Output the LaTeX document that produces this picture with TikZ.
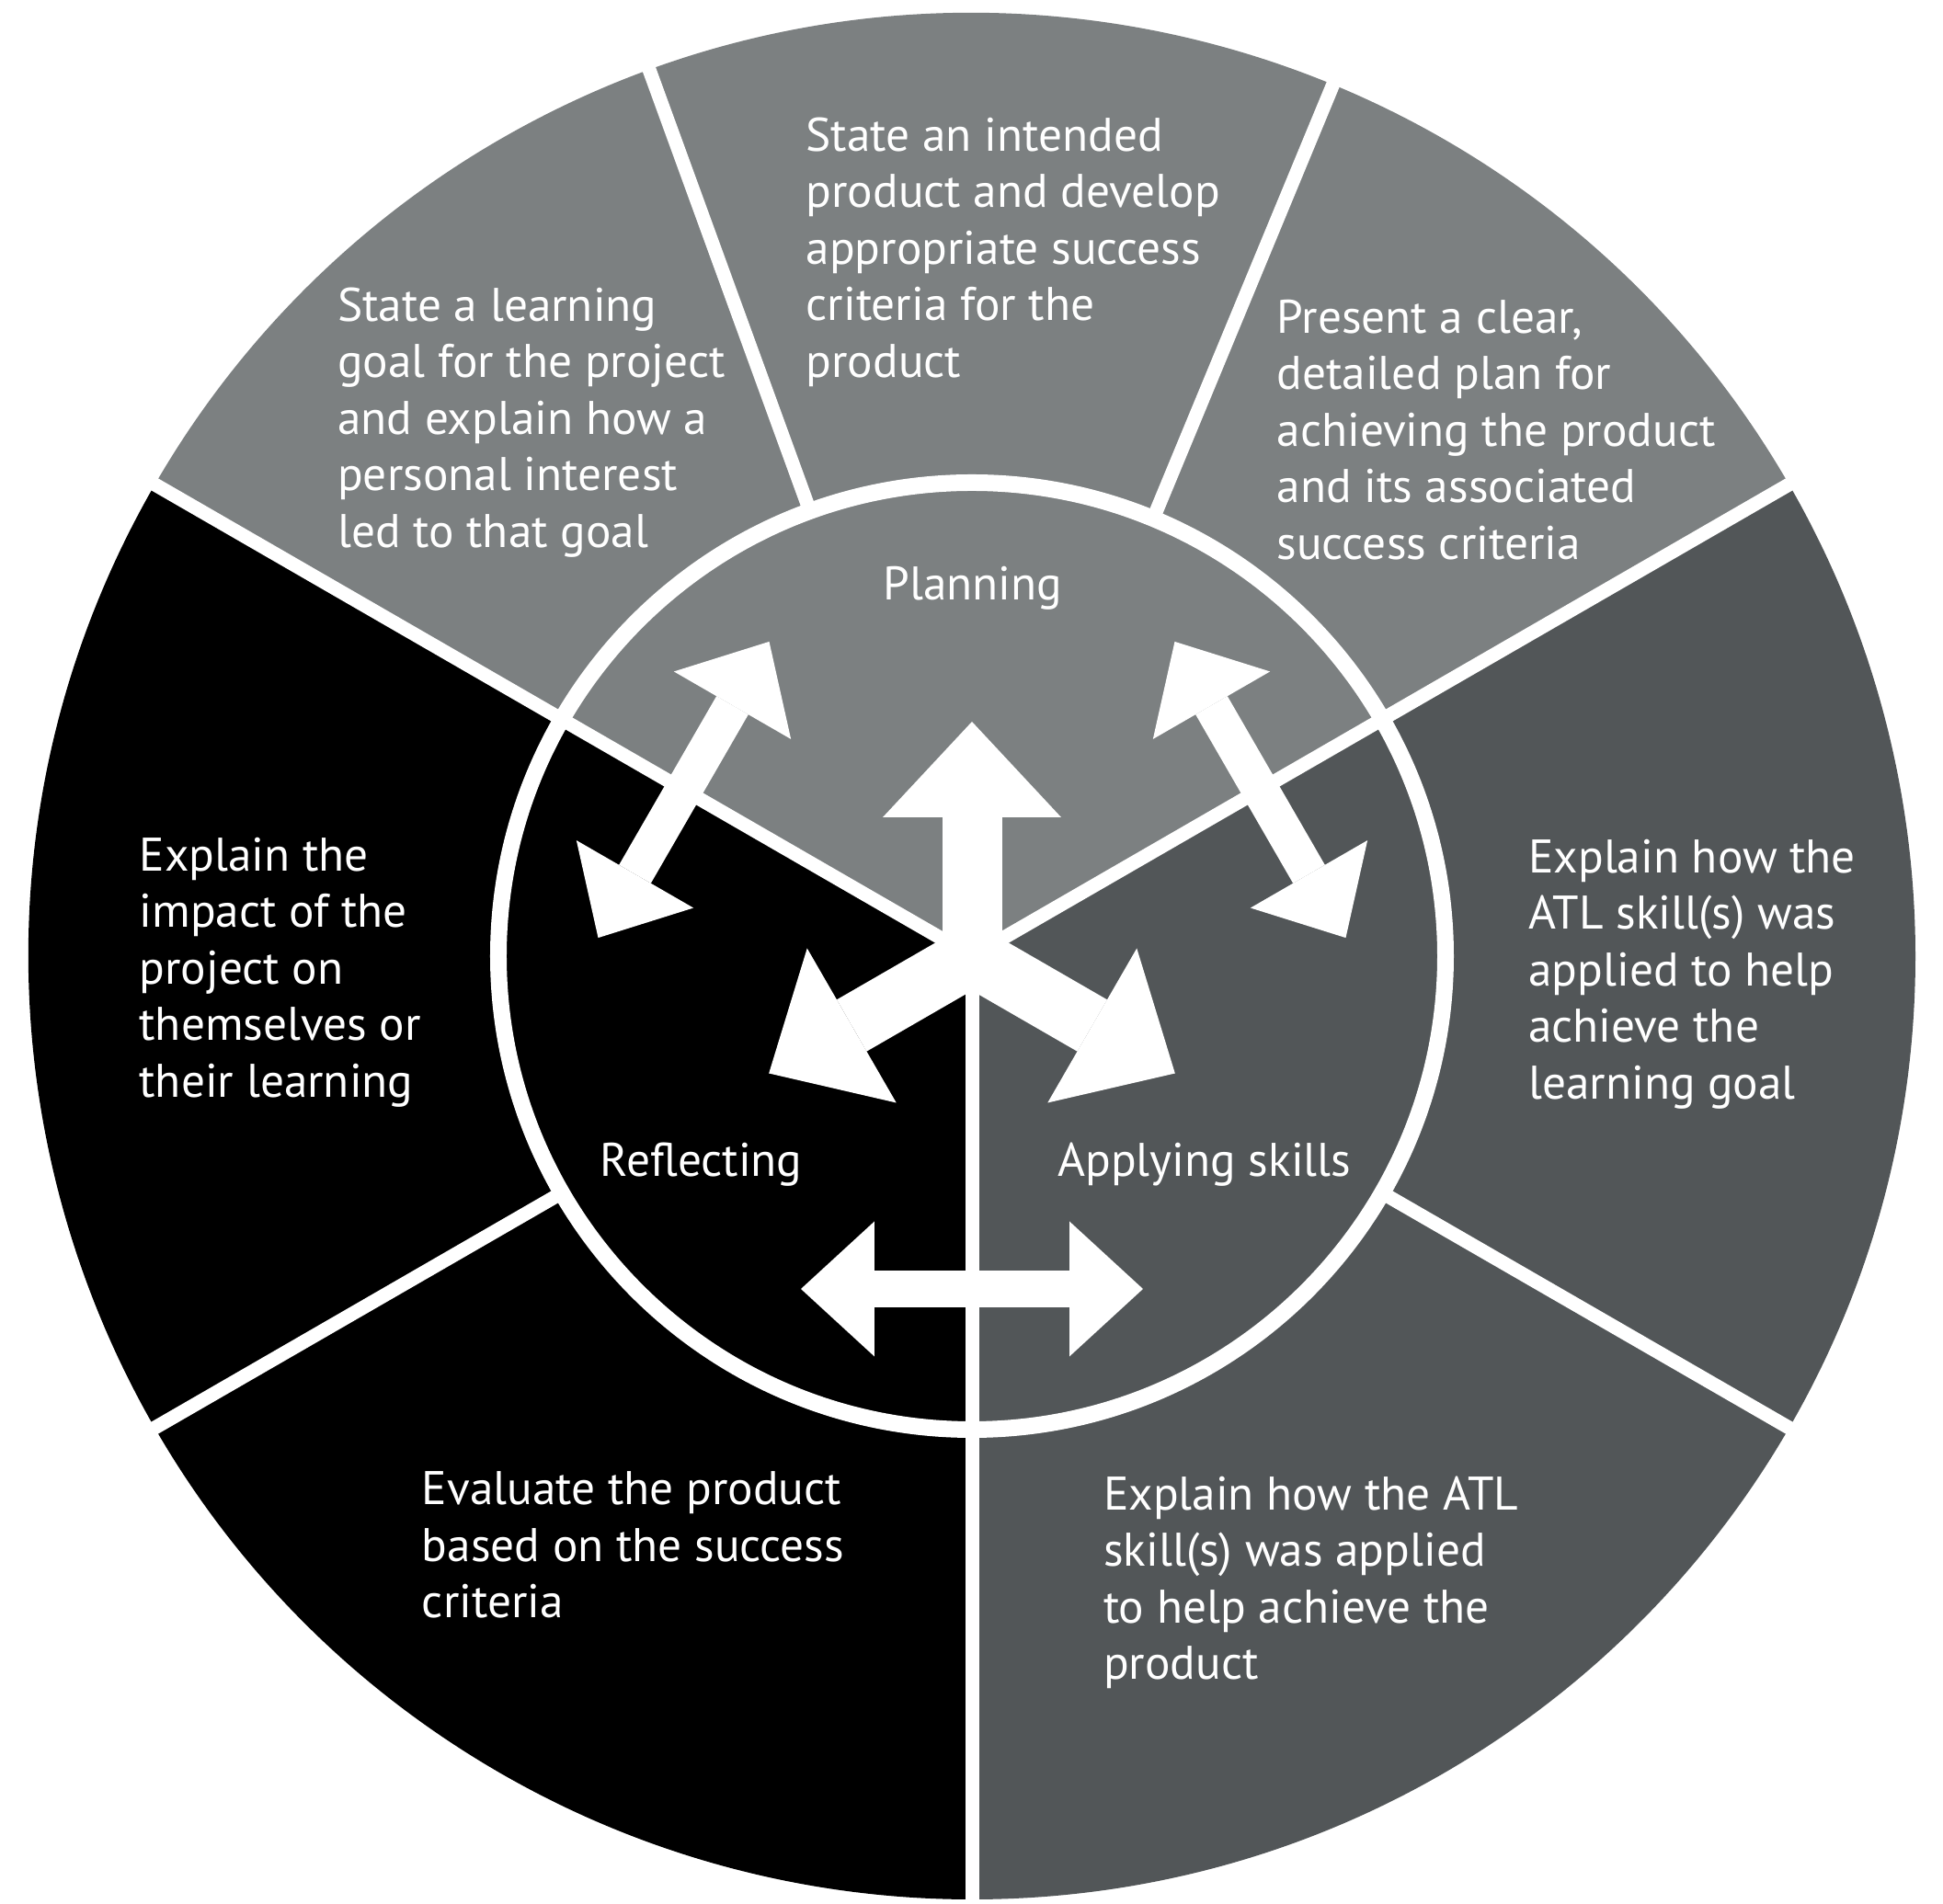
\documentclass[tikz,border=0pt]{standalone}
\usepackage{fontspec}
\setmainfont{PT Sans}
\definecolor{planfill}{RGB}{124, 128, 129}
\definecolor{applyfill}{RGB}{82, 86, 88}
\definecolor{reflectfill}{RGB}{0, 0, 0}
\usetikzlibrary{arrows.meta, calc}

\tikzset{
  seg/.style={text=white, font=\fontsize{14.6}{17.5}\selectfont, align=left, anchor=north west, inner sep=0pt},
  phase/.style={text=white, font=\fontsize{14.6}{17.5}\selectfont, inner sep=0pt},
  rim/.style={white, line width=0.15cm},
  bigarrow/.style={white, line width=0.65cm, shorten <=-0.2cm,
    -{Triangle[length=1.04cm, width=1.94cm, line width=0pt]}},
  twoway/.style={white, line width=0.40cm,
    {Triangle[length=0.8cm, width=1.47cm, line width=0pt]}-{Triangle[length=0.8cm, width=1.47cm, line width=0pt]}},
}

\begin{document}
\begin{tikzpicture}
  \useasboundingbox (-10.57,-10.31) rectangle (10.56,10.40);
  \coordinate (hub) at (0,0);
  % three phases
  \fill[planfill] (hub) -- (30:10.26) arc[start angle=30, end angle=150, radius=10.26] -- cycle;
  \fill[reflectfill] (hub) -- (150:10.26) arc[start angle=150, end angle=270, radius=10.26] -- cycle;
  \fill[applyfill] (hub) -- (270:10.26) arc[start angle=270, end angle=390, radius=10.26] -- cycle;
  % dividers
  \foreach \a in {30,150,270} \draw[rim] (hub) -- (\a:10.4);
  \foreach \a in {67.5,110,210,330} \draw[rim] (\a:5.15) -- (\a:10.4);
  \draw[rim, line width=0.18cm] (hub) circle[radius=5.15];
  % arrows out of the hub
  \foreach \a/\n in {90/P, 210/R, 330/A} {
    \coordinate (tip\n) at (\a:2.55);
    \draw[bigarrow] (hub) -- (tip\n);
  }
  % arrows across the borders
  \foreach \a/\n in {150/PR, 30/PA, 270/RA} {
    \coordinate (\n a) at ($(\a:3.62)+(\a+90:1.86)$);
    \coordinate (\n b) at ($(\a:3.62)+(\a-90:1.86)$);
    \draw[twoway] (\n a) -- (\n b);
  }
  % phase names
  \node[phase] (planning) at (0.01,4.0) {Planning};
  \node[phase] (reflecting) at (-2.943,-2.267) {Reflecting};
  \node[phase] (applying) at (2.529,-2.267) {Applying skills};
  % outer texts
  \node[seg] (goal) at (-6.905,7.28) {State a learning\\goal for the project\\and explain how a\\personal interest\\led to that goal};
  \node[seg] (product) at (-1.81,9.13) {State an intended\\product and develop\\appropriate success\\criteria for the\\product};
  \node[seg] (plan) at (3.31,7.15) {Present a clear,\\detailed plan for\\achieving the product\\and its associated\\success criteria};
  \node[seg] (skillgoal) at (6.046,1.28) {Explain how the\\ATL skill(s) was\\applied to help\\achieve the\\learning goal};
  \node[seg] (skillprod) at (1.424,-5.65) {Explain how the ATL\\skill(s) was applied\\to help achieve the\\product};
  \node[seg] (evaluate) at (-5.988,-5.60) {Evaluate the product\\based on the success\\criteria};
  \node[seg] (impact) at (-9.061,1.30) {Explain the\\impact of the\\project on\\themselves or\\their learning};
\end{tikzpicture}
\end{document}
